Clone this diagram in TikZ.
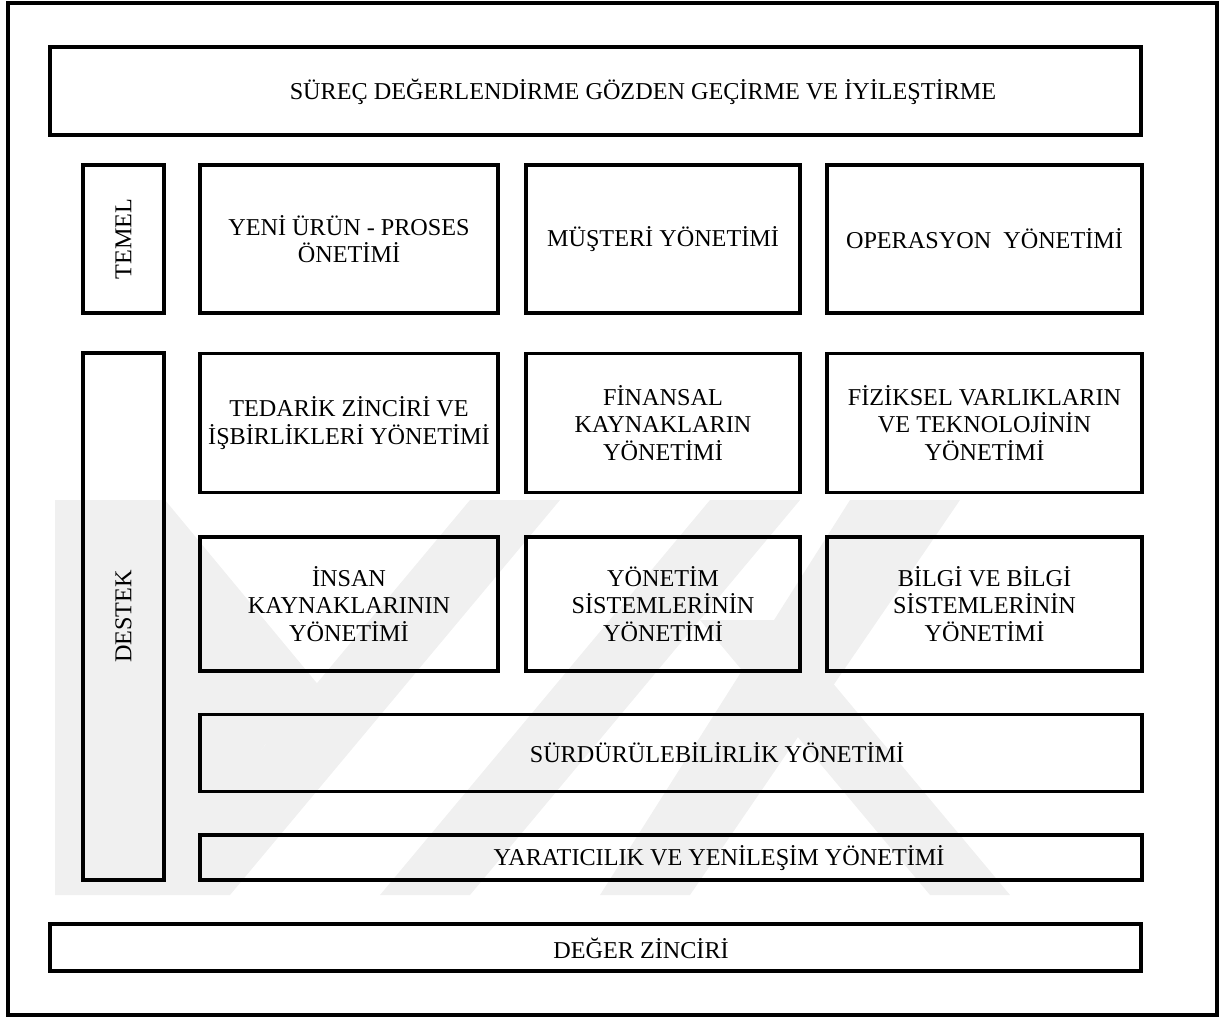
\documentclass[tikz,border=0pt]{standalone}
\usepackage{fontspec}
\setmainfont{Liberation Serif}
\begin{document}
\begin{tikzpicture}[x=1pt,y=-1pt,
  frame/.style={draw, line width=3.2pt},
  box/.style={draw, line width=3.2pt, inner sep=0pt, align=center,
    font=\fontsize{24.2}{27.5}\selectfont},
  lbl/.style={inner sep=0pt, align=center, font=\fontsize{24.2}{27.5}\selectfont},
  wm/.style={fill=black!6, draw=none}]
\useasboundingbox (0,0) rectangle (1224,1019);

% faint background emblem
\begin{scope}
  \clip (55,500) rectangle (1015,895);
  \fill[wm] (55,500) -- (165,500) -- (335,705) -- (265,745) -- (160,895) -- (55,895) -- cycle;
  \fill[wm] (140,895) -- (230,895) -- (560,500) -- (470,500) -- cycle;
  \fill[wm] (380,895) -- (470,895) -- (800,500) -- (710,500) -- cycle;
  \fill[wm] (600,895) -- (690,895) -- (960,500) -- (850,500) -- cycle;
  \fill[wm] (700,620) -- (780,620) -- (1010,895) -- (930,895) -- cycle;
\end{scope}

% outer frame
\draw[frame] (8,3) rectangle (1217,1015);

% top band
\node[box, minimum width=1091pt, minimum height=88pt] (review) at (595.5,91) {};
\node[lbl] (reviewt) at (643,92) {SÜREÇ DEĞERLENDİRME GÖZDEN GEÇİRME VE İYİLEŞTİRME};

% side labels
\node[box, minimum width=81pt, minimum height=148pt] (temel) at (123.5,239) {};
\node[lbl, rotate=90] (temelt) at (123.5,239) {TEMEL};
\node[box, minimum width=81pt, minimum height=527pt] (destek) at (123.5,616.5) {};
\node[lbl, rotate=90] (destekt) at (123.5,616.5) {DESTEK};

% core processes
\node[box, minimum width=298pt, minimum height=148pt] (urun) at (349,239) {YENİ ÜRÜN - PROSES\\ÖNETİMİ};
\node[box, minimum width=274pt, minimum height=148pt] (musteri) at (663,239) {MÜŞTERİ YÖNETİMİ};
\node[box, minimum width=315pt, minimum height=148pt] (operasyon) at (984.5,239) {OPERASYON\ \ YÖNETİMİ};

% support processes, first row
\node[box, minimum width=298pt, minimum height=139pt] (tedarik) at (349,423) {TEDARİK ZİNCİRİ VE\\İŞBİRLİKLERİ YÖNETİMİ};
\node[box, minimum width=274pt, minimum height=139pt] (finans) at (663,423) {FİNANSAL\\KAYNAKLARIN\\YÖNETİMİ};
\node[box, minimum width=315pt, minimum height=139pt] (fiziksel) at (984.5,423) {FİZİKSEL VARLIKLARIN\\VE TEKNOLOJİNİN\\YÖNETİMİ};

% support processes, second row
\node[box, minimum width=298pt, minimum height=134pt] (insan) at (349,604) {İNSAN\\KAYNAKLARININ\\YÖNETİMİ};
\node[box, minimum width=274pt, minimum height=134pt] (yonetim) at (663,604) {YÖNETİM\\SİSTEMLERİNİN\\YÖNETİMİ};
\node[box, minimum width=315pt, minimum height=134pt] (bilgi) at (984.5,604) {BİLGİ VE BİLGİ\\SİSTEMLERİNİN\\YÖNETİMİ};

% wide support bands
\node[box, minimum width=942pt, minimum height=77pt] (surdur) at (671,753) {};
\node[lbl] (surdurt) at (717,753) {SÜRDÜRÜLEBİLİRLİK YÖNETİMİ};
\node[box, minimum width=942pt, minimum height=45pt] (yaratici) at (671,857.5) {};
\node[lbl] (yaratcit) at (719,858) {YARATICILIK VE YENİLEŞİM YÖNETİMİ};

% bottom band
\node[box, minimum width=1091pt, minimum height=47pt] (deger) at (595.5,947.5) {};
\node[lbl] (degert) at (641,948) {DEĞER ZİNCİRİ};
\end{tikzpicture}
\end{document}
